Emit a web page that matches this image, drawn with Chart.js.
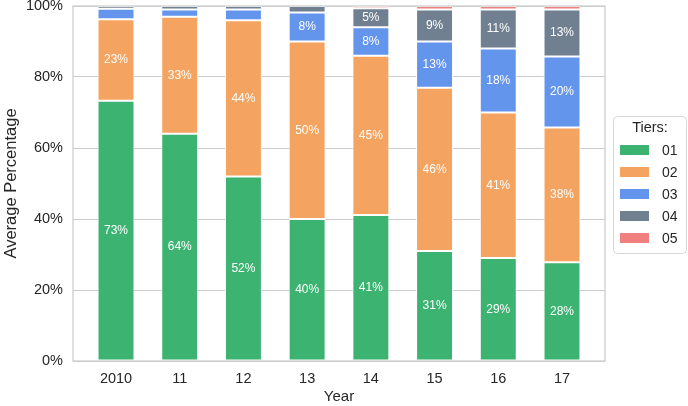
<!DOCTYPE html>
<html><head><meta charset="utf-8">
<script src="https://cdn.jsdelivr.net/npm/chart.js@4"></script>
<style>html,body{margin:0;padding:0;background:#fff}#wrap{width:688px;height:406px;position:relative}</style>
</head><body><div id="wrap"><canvas id="c" width="688" height="406"></canvas></div>
<script>
// ---- data ----
const years = ['2010', '11', '12', '13', '14', '15', '16', '17'];
const tierNames = ['01', '02', '03', '04', '05'];
const tier01 = [73.3, 64.0, 52.0, 40.0, 41.1, 31.0, 29.0, 27.8];
const tier02 = [23.0, 33.0, 44.0, 50.0, 44.9, 46.0, 41.0, 38.0];
const tier03 = [2.9, 2.0, 3.0, 8.2, 8.0, 13.0, 18.0, 20.0];
const tier04 = [0.8, 1.0, 1.0, 1.8, 5.4, 9.0, 11.0, 13.2];
const tier05 = [0.0, 0.0, 0.0, 0.0, 0.6, 1.0, 1.0, 1.0];
const yTicks = [0, 20, 40, 60, 80, 100];

// ---- styles ----
const tierColors = ['#3cb371', '#f4a460', '#6495ed', '#708090', '#f08080'];
const FONT = '"Liberation Sans", Arial, sans-serif';
const TEXT = '#262626';
const EDGE = '#cccccc';

const series = [tier01, tier02, tier03, tier04, tier05];
const datasets = series.map((vals, k) => ({
  label: tierNames[k],
  data: vals.map((v, i) => ({ x: i, y: v })),
  backgroundColor: tierColors[k],
  borderColor: '#ffffff',
  borderWidth: 1,
  borderSkipped: false,
  barPercentage: 0.58,
  categoryPercentage: 1
}));

const framePlugin = {
  id: 'frame',
  afterDraw(chart) {
    const { ctx, chartArea: a } = chart;
    ctx.save();
    ctx.strokeStyle = EDGE;
    ctx.lineWidth = 1.25;
    ctx.strokeRect(a.left, a.top, a.right - a.left, a.bottom - a.top);
    ctx.restore();
  }
};

const labelPlugin = {
  id: 'segLabels',
  afterDatasetsDraw(chart) {
    const ctx = chart.ctx;
    ctx.save();
    ctx.font = '12px ' + FONT;
    ctx.fillStyle = '#ffffff';
    ctx.textAlign = 'center';
    ctx.textBaseline = 'middle';
    chart.data.datasets.forEach((ds, k) => {
      const meta = chart.getDatasetMeta(k);
      meta.data.forEach((el, i) => {
        const v = series[k][i];
        if (v < 4.5) return;
        ctx.fillText(Math.round(v) + '%', el.x, (el.y + el.base) / 2);
      });
    });
    ctx.restore();
  }
};

const legendPlugin = {
  id: 'boxLegend',
  afterDraw(chart) {
    const ctx = chart.ctx;
    const a = chart.chartArea;
    const left = a.right + 8, top = 116, w = 73, h = 137;
    ctx.save();
    ctx.beginPath();
    ctx.roundRect(left + 0.5, top + 0.5, w, h, 4);
    ctx.fillStyle = 'rgba(255,255,255,0.8)';
    ctx.fill();
    ctx.strokeStyle = '#d6d6d6';
    ctx.lineWidth = 1;
    ctx.stroke();
    ctx.font = '14.5px ' + FONT;
    ctx.fillStyle = TEXT;
    ctx.textAlign = 'center';
    ctx.textBaseline = 'middle';
    ctx.fillText('Tiers:', left + w / 2 + 0.5, top + 12);
    ctx.textAlign = 'left';
    ctx.font = '14px ' + FONT;
    chart.data.datasets.forEach((ds, k) => {
      const cy = top + 34 + k * 22;
      ctx.fillStyle = ds.backgroundColor;
      ctx.fillRect(left + 7, cy - 5, 29, 10);
      ctx.fillStyle = TEXT;
      ctx.fillText(ds.label, left + 49, cy + 1);
    });
    ctx.restore();
  }
};

new Chart(document.getElementById('c'), {
  type: 'bar',
  data: { datasets },
  plugins: [framePlugin, labelPlugin, legendPlugin],
  options: {
    responsive: false,
    animation: false,
    devicePixelRatio: 1,
    layout: { padding: { left: 0, right: 83, top: 6, bottom: 0 } },
    plugins: { legend: { display: false }, tooltip: { enabled: false } },
    scales: {
      x: {
        type: 'linear',
        stacked: true,
        min: -0.675,
        max: 7.675,
        offset: false,
        afterBuildTicks: s => { s.ticks = years.map((_, i) => ({ value: i })); },
        afterFit: s => { s.height = 45; },
        grid: { display: false, drawTicks: false, tickLength: 0 },
        border: { display: false },
        ticks: {
          padding: 9,
          color: TEXT,
          font: { family: FONT, size: 14.5 },
          maxRotation: 0,
          autoSkip: false,
          callback: v => years[v]
        },
        title: { display: true, text: 'Year', color: TEXT, font: { family: FONT, size: 15 }, padding: { top: 1, bottom: 0 } }
      },
      y: {
        stacked: true,
        min: 0,
        max: 100,
        afterBuildTicks: s => { s.ticks = yTicks.map(v => ({ value: v })); },
        afterFit: s => { s.paddingTop = 0; s.width = 73; },
        grid: { color: EDGE, lineWidth: 1, drawTicks: false, tickLength: 0 },
        border: { display: false },
        ticks: {
          padding: 10,
          color: TEXT,
          font: { family: FONT, size: 14.5 },
          callback: v => v + '%'
        },
        title: { display: true, text: 'Average Percentage', color: TEXT, font: { family: FONT, size: 16.5 }, padding: { top: 2, bottom: 4 } }
      }
    }
  }
});
</script>
</body></html>
